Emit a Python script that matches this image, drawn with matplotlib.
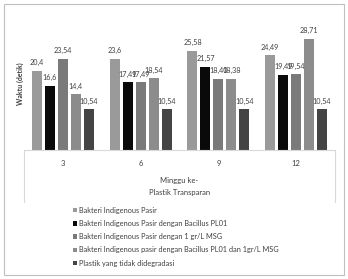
import matplotlib.pyplot as plt
import matplotlib.lines as mlines
import matplotlib.patches as mpatches
import numpy as np

plt.rcParams['font.family'] = ['Lato', 'DejaVu Sans']

weeks = ['3', '6', '9', '12']
series = [
    'Bakteri Indigenous Pasir',
    'Bakteri Indigenous Pasir dengan Bacillus PL01',
    'Bakteri Indigenous Pasir dengan 1 gr/L MSG',
    'Bakteri Indigenous pasir dengan Bacillus PL01 dan 1gr/L MSG',
    'Plastik yang tidak didegradasi',
]
values = [
    [20.4, 23.6, 25.58, 24.49],
    [16.6, 17.49, 21.57, 19.49],
    [23.54, 17.49, 18.40, 19.54],
    [14.4, 18.54, 18.38, 28.71],
    [10.54, 10.54, 10.54, 10.54],
]
labels = [
    ['20,4', '23,6', '25,58', '24,49'],
    ['16,6', '17,49', '21,57', '19,49'],
    ['23,54', '17,49', '18,40', '19,54'],
    ['14,4', '18,54', '18,38', '28,71'],
    ['10,54', '10,54', '10,54', '10,54'],
]
colors = ['#9a9a9a', '#0a0a0a', '#7a7a7a', '#8c8c8c', '#444444']

fig = plt.figure(figsize=(3.48, 2.79), dpi=100)
ax = fig.add_axes([0.069, 0.4624, 0.8937, 0.4158])

x = np.arange(len(weeks))
step = 1 / 6
for i in range(len(series)):
    pos = x + (i - 2) * step
    bars = ax.bar(pos, values[i], width=0.128, color=colors[i], label=series[i])
    for b, t in zip(bars, labels[i]):
        ax.text(b.get_x() + b.get_width() / 2, b.get_height() + 1.2, t,
                ha='center', va='bottom', fontsize=5.2, color='#404040')

ax.set_xlim(-0.5, 3.5)
ax.set_ylim(0, 30)
ax.set_yticks([])
ax.set_xticks(x)
ax.set_xticklabels(weeks, fontsize=5.5, color='#404040')
ax.tick_params(axis='x', length=0, pad=7)
for s in ['top', 'right', 'left']:
    ax.spines[s].set_visible(False)
ax.spines['bottom'].set_color('#d9d9d9')
ax.spines['bottom'].set_linewidth(0.8)

fig.text(0.058, 0.70, 'Waktu (detik)', rotation=90, ha='center', va='center',
         fontsize=5, color='#404040', fontweight='bold')
fig.text(0.515, 1 - 180 / 279, 'Minggu ke-', ha='center', va='center',
         fontsize=5.5, color='#404040')
fig.text(0.515, 1 - 193 / 279, 'Plastik Transparan', ha='center', va='center',
         fontsize=5.5, color='#404040')

# side lines of the category area and outer border
fig.add_artist(mlines.Line2D([24 / 348, 24 / 348], [1 - 150 / 279, 1 - 202 / 279],
                             color='#d9d9d9', lw=0.8))
fig.add_artist(mlines.Line2D([335 / 348, 335 / 348], [1 - 150 / 279, 1 - 202 / 279],
                             color='#d9d9d9', lw=0.8))
fig.add_artist(mpatches.Rectangle((4 / 348, 4 / 279), 340 / 348, 271 / 279,
                                  fill=False, edgecolor='#bfbfbf', lw=0.8))

handles, names = ax.get_legend_handles_labels()
leg = fig.legend(handles, names, loc='upper left', bbox_to_anchor=(69 / 348, 1 - 203 / 279),
                 frameon=False, fontsize=5.3, handlelength=0.6, handleheight=0.6,
                 handletextpad=0.3, labelspacing=0.85, borderpad=0)
for t in leg.get_texts():
    t.set_color('#404040')

fig.savefig('out.png', dpi=100)
